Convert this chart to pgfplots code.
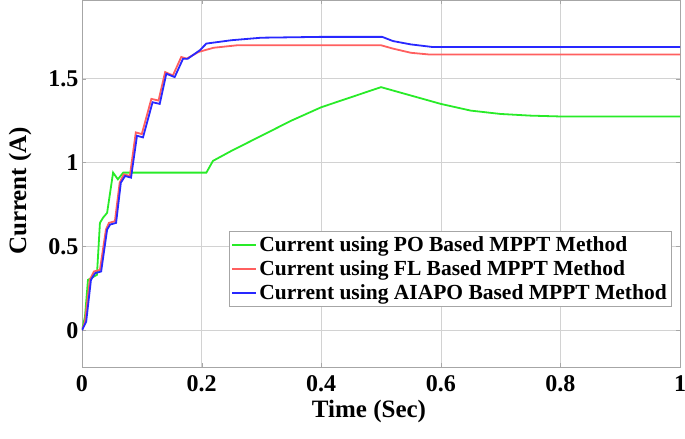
\documentclass[border=0pt]{standalone}
\usepackage{fontspec}
\setmainfont{Liberation Serif}
\usepackage{pgfplots}
\pgfplotsset{compat=1.18}
\definecolor{pogreen}{RGB}{40,235,40}
\definecolor{flred}{RGB}{255,95,95}
\definecolor{aiblue}{RGB}{40,40,255}
\begin{document}
\begin{tikzpicture}
\begin{axis}[
  name=ax,
  scale only axis,
  width=598pt, height=367pt,
  xmin=0, xmax=1, ymin=-0.22, ymax=1.97,
  xtick={0,0.2,0.4,0.6,0.8,1},
  ytick={0,0.5,1,1.5},
  xticklabels={0,0.2,0.4,0.6,0.8,1},
  yticklabels={0,0.5,1,1.5},
  grid=major,
  grid style={gray!35, line width=0.6pt},
  axis line style={gray!70, line width=0.8pt},
  tick style={gray!70},
  major tick length=4pt,
  tick align=inside,
  ticklabel style={font=\bfseries\fontsize{24}{24}\selectfont},
  xticklabel style={yshift=-5pt},
  xlabel={Time (Sec)}, ylabel={Current (A)},
  label style={font=\bfseries\fontsize{25}{25}\selectfont},
  xlabel style={at={(axis description cs:0.48,0)}, anchor=center, yshift=-44pt},
  ylabel style={at={(axis description cs:-0.1035,0.48)}, anchor=center},
  legend style={at={(0.985,0.166)}, anchor=south east, draw=gray!70,
    font=\bfseries\fontsize{21.5}{25}\selectfont, row sep=3.5pt,
    inner xsep=2pt, inner ysep=3pt},
  legend cell align=left,
  legend image code/.code={\draw[#1] (0pt,0pt) -- (24pt,0pt);},
]
\addplot[pogreen, line width=1.8pt] coordinates {
(0,0) (0.005,0.08) (0.01,0.30) (0.025,0.33) (0.03,0.64) (0.035,0.67) (0.042,0.70)
(0.052,0.94) (0.06,0.90) (0.069,0.94) (0.10,0.94) (0.15,0.94) (0.208,0.94)
(0.219,1.01) (0.25,1.07) (0.30,1.16) (0.35,1.25) (0.40,1.33) (0.45,1.39) (0.50,1.45)
(0.55,1.40) (0.60,1.35) (0.65,1.31) (0.70,1.29) (0.75,1.28) (0.80,1.275) (0.9,1.275) (1,1.275)
};
\addplot[flred, line width=1.8pt] coordinates {
(0,0) (0.005,0.05) (0.013,0.30) (0.02,0.35) (0.03,0.36) (0.04,0.60) (0.045,0.64)
(0.055,0.65) (0.063,0.88) (0.07,0.93) (0.08,0.92) (0.09,1.18) (0.10,1.17)
(0.116,1.38) (0.128,1.37) (0.139,1.54) (0.152,1.52) (0.166,1.63) (0.175,1.62)
(0.195,1.66) (0.22,1.685) (0.26,1.70) (0.35,1.70) (0.50,1.70) (0.52,1.68)
(0.55,1.655) (0.58,1.645) (0.7,1.645) (1,1.645)
};
\addplot[aiblue, line width=1.8pt] coordinates {
(0,0) (0.007,0.05) (0.015,0.30) (0.022,0.34) (0.032,0.35) (0.042,0.60) (0.047,0.63)
(0.057,0.64) (0.065,0.88) (0.072,0.92) (0.082,0.91) (0.092,1.16) (0.102,1.15)
(0.118,1.36) (0.130,1.35) (0.141,1.53) (0.155,1.51) (0.169,1.62) (0.177,1.62)
(0.197,1.67) (0.208,1.71) (0.25,1.73) (0.30,1.745) (0.40,1.75) (0.502,1.75)
(0.52,1.725) (0.55,1.705) (0.585,1.69) (0.7,1.69) (1,1.69)
};
\legend{Current using PO Based MPPT Method,
        Current using FL Based MPPT Method,
        Current using AIAPO Based MPPT Method}
\end{axis}
\pgfresetboundingbox
\path[use as bounding box] ([shift={(-82pt,-71pt)}]ax.south west) rectangle ([shift={(5pt,0pt)}]ax.north east);
\end{tikzpicture}
\end{document}
